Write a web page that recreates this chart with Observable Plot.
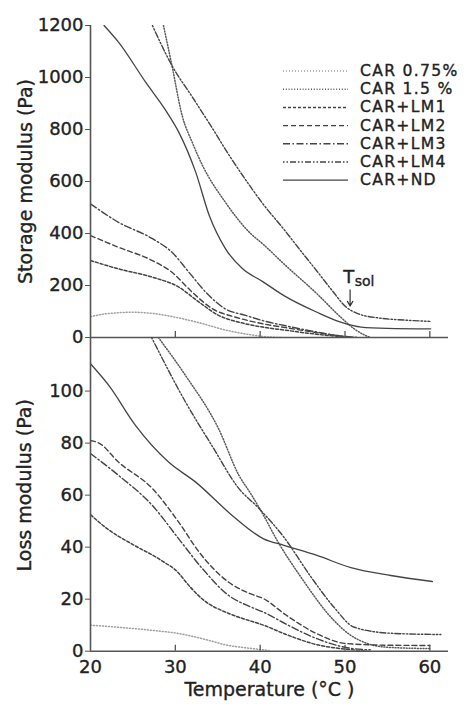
<!DOCTYPE html>
<html>
<head>
<meta charset="utf-8">
<script src="https://cdn.jsdelivr.net/npm/d3@7"></script>
<script src="https://cdn.jsdelivr.net/npm/@observablehq/plot@0.6"></script>
<style>
  body { margin: 0; background: #fff; }
  #root { position: relative; width: 475px; height: 710px; overflow: hidden; }
  #root > * { position: absolute; left: 0; }
  #root text { stroke: #222; stroke-width: 0.35px; }
</style>
</head>
<body>
<div id="root"></div>
<script>
// ---------- data ----------
const seriesNames = ["CAR 0.75%", "CAR 1.5 %", "CAR+LM1", "CAR+LM2", "CAR+LM3", "CAR+LM4", "CAR+ND"];
const xTicks = [20, 30, 40, 50, 60];
const yTicksStorage = [0, 200, 400, 600, 800, 1000, 1200];
const yTicksLoss = [0, 20, 40, 60, 80, 100];

// Storage modulus (Pa) vs temperature (°C): [T, G']
const storageCar075 = [[20,80],[22,92],[25,97],[27.5,92],[30,78],[33,55],[36,28],[39,10],[41,2],[42.5,0]];
const storageCar15  = [[28.6,1200],[29.6,1046],[30.8,854],[32,750],[33.2,662],[35.9,520],[38.9,399],[40.3,360],[42.8,283],[46.7,168],[49.5,78],[51.1,33],[52.4,8],[53,0]];
const storageLM1    = [[20,296],[23.3,264],[27.3,232],[30.4,194],[32.8,136],[35.1,85],[37.5,59],[40.3,40],[43,28],[46,15],[49,5],[51,0]];
const storageLM2    = [[20,392],[23.3,347],[27.3,296],[29.6,251],[32,174],[34.4,110],[37.1,78],[40.3,53],[43,38],[46,22],[49,8],[51,0]];
const storageLM3    = [[20,514],[23.3,443],[27.3,380],[29.6,328],[31.6,251],[33.6,174],[35.9,110],[38.3,85],[40.3,65],[43,45],[46,25],[49,8],[51.5,0]];
const storageLM4    = [[27.3,1200],[29.6,1046],[32,925],[34.4,803],[36.5,693],[38.9,578],[40.3,515],[42.8,416],[44.5,345],[46.7,255],[48.5,180],[50.1,118],[51.5,92],[54,75],[57,67],[60,62]];
const storageND     = [[21.6,1200],[23.3,1136],[26.5,982],[29,867],[30.4,790],[32.4,636],[34,469],[35.9,342],[37.9,265],[40.3,215],[42.8,161],[46.7,97],[49.5,59],[51.9,40],[55,35],[60.1,33]];

// Loss modulus (Pa) vs temperature (°C): [T, G'']
const lossCar075 = [[20,10],[23.3,9.2],[27.3,8],[30.4,6.8],[33.2,4.8],[36.3,2.2],[39.1,1],[41,0.3]];
const lossCar15  = [[28,120.6],[31.2,106],[35.1,85.5],[37.5,67.6],[38.9,60.5],[40.4,52.2],[42,42.6],[44.8,28.5],[48.7,11.8],[50.5,6.5],[52.6,3],[55,1.5],[60,1]];
const lossLM1    = [[20,52.5],[22,47],[25,41],[28.3,35],[30.4,30],[31.4,26],[33.2,20],[36.3,14.5],[38,12.5],[40.4,10],[43,6.5],[46.7,2.5],[50,0.8],[53,0]];
const lossLM2    = [[20,81],[21,80],[23.3,72.7],[27.3,62.5],[30.4,49.6],[32.8,38.1],[36.3,26.5],[38.9,22],[40.4,20.2],[43,14],[46.7,6.7],[50,3],[55,2.3],[60,2.2]];
const lossLM3    = [[20,76],[23.3,67.6],[27.3,56],[30.4,43.2],[33.2,31.7],[36.3,21.4],[38.9,17],[40.4,15],[43,10.5],[46.7,4.8],[50,1.5],[53,0.5]];
const lossLM4    = [[27.2,120.6],[31.2,95.8],[34.3,79.1],[37.5,62.5],[39.7,55.4],[42.8,43.8],[46,28.5],[48.7,16.9],[51.1,9.2],[55.4,6.9],[61.3,6.4]];
const lossND     = [[20,110.5],[22.2,102],[25.3,86.8],[29.2,72.7],[32.4,65],[36.7,52.2],[40.4,43.2],[42.8,40.7],[46.7,36.8],[50.7,32.1],[55.4,29.1],[60.3,26.8]];

// T_sol annotation (storage panel)
const tsolText = [{t: 49.8, g: 232, s: "T"}];
const tsolSub = [{t: 51.15, g: 215, s: "sol"}];
const tsolArrow = [{t: 50.6, g1: 183, g2: 121}];

// ---------- styles ----------
const styles = [
  {stroke: "#a0a0a0", dash: "1,2", width: 1.5},
  {stroke: "#5a5a5a", dash: "1,1.8", width: 1.5},
  {stroke: "#444",    dash: "3,2", width: 1.5},
  {stroke: "#444",    dash: "5,3", width: 1.4},
  {stroke: "#444",    dash: "7,2.5,1.5,2.5", width: 1.4},
  {stroke: "#444",    dash: "1.5,2,1.5,2,6,2", width: 1.4},
  {stroke: "#444",    dash: null, width: 1.3}
];
const storageSeries = [storageCar075, storageCar15, storageLM1, storageLM2, storageLM3, storageLM4, storageND];
const lossSeries = [lossCar075, lossCar15, lossLM1, lossLM2, lossLM3, lossLM4, lossND];

const FONT = "DejaVu Sans";
const W = 475, ML = 90, MR = 27;
const xDomain = [20, 62.2];
const axisColor = "#555";
const fmt = d => String(d);

function lineMarks(series) {
  return series.map((d, i) => Plot.line(d, {
    x: p => p[0], y: p => p[1],
    curve: "monotone-x",
    stroke: styles[i].stroke,
    strokeWidth: styles[i].width,
    strokeDasharray: styles[i].dash ?? undefined,
    clip: true
  }));
}

// ---------- top: storage modulus ----------
const topH = 340, topMT = 25, topMB = 3;
const topPlot = Plot.plot({
  width: W, height: topH,
  marginTop: topMT, marginBottom: topMB, marginLeft: ML, marginRight: MR,
  style: {background: "transparent", fontFamily: FONT, fontSize: "18px", color: "#222", overflow: "visible"},
  x: {domain: xDomain, axis: null},
  y: {domain: [0, 1200]},
  marks: [
    Plot.axisY(yTicksStorage, {tickSize: 5, tickPadding: 2, label: null, stroke: axisColor, tickFormat: fmt}),
    ...lineMarks(storageSeries),
    Plot.ruleX([20], {stroke: axisColor, strokeWidth: 1.6}),
    Plot.ruleY([0], {stroke: axisColor, strokeWidth: 1.6}),
    Plot.tickX(xTicks.slice(1), {stroke: axisColor, strokeWidth: 1.3, insetTop: topH - topMT - topMB - 6}),
    Plot.text(["Storage modulus (Pa)"], {frameAnchor: "left", textAnchor: "middle", rotate: -90, dx: -65, fontSize: 19, fill: "#222", letterSpacing: 1}),
    Plot.text(tsolText, {x: "t", y: "g", text: "s", textAnchor: "start", fontSize: 18, fill: "#222"}),
    Plot.text(tsolSub, {x: "t", y: "g", text: "s", textAnchor: "start", fontSize: 14, fill: "#222"}),
    Plot.arrow(tsolArrow, {x1: "t", y1: "g1", x2: "t", y2: "g2", stroke: "#333", strokeWidth: 1.2, headLength: 7})
  ]
});
topPlot.style.top = "0px";

// ---------- bottom: loss modulus ----------
const botTop = 330, botH = 380, botMT = 7, botMB = 59.3;
const botPlot = Plot.plot({
  width: W, height: botH,
  marginTop: botMT, marginBottom: botMB, marginLeft: ML, marginRight: MR,
  style: {background: "transparent", fontFamily: FONT, fontSize: "18px", color: "#222", overflow: "visible"},
  x: {domain: xDomain},
  y: {domain: [0, 120.6]},
  marks: [
    Plot.axisY(yTicksLoss, {tickSize: 5, tickPadding: 2, label: null, stroke: axisColor, tickFormat: fmt}),
    Plot.axisX(xTicks, {tickSize: 0, tickPadding: 9, label: null, tickFormat: fmt}),
    ...lineMarks(lossSeries),
    Plot.ruleX([20], {stroke: axisColor, strokeWidth: 1.6}),
    Plot.ruleY([0], {stroke: axisColor, strokeWidth: 1.6}),
    Plot.tickX(xTicks.slice(1), {stroke: axisColor, strokeWidth: 1.3, insetTop: botH - botMT - botMB - 6}),
    Plot.text(["Loss modulus (Pa)"], {frameAnchor: "left", textAnchor: "middle", rotate: -90, dx: -66, dy: -9, fontSize: 19, fill: "#222", letterSpacing: 0.8}),
    Plot.text(["Temperature (°C )"], {frameAnchor: "bottom", dy: 45, fontSize: 19, fill: "#222", letterSpacing: 0.2})
  ]
});
botPlot.style.top = botTop + "px";

const root = document.getElementById("root");
root.appendChild(topPlot);
root.appendChild(botPlot);

// ---------- legend ----------
const legend = d3.create("svg")
  .attr("width", W).attr("height", 200)
  .style("top", "0px")
  .style("font-family", FONT);
const rowY0 = 71, rowStep = 18.2;
seriesNames.forEach((name, i) => {
  const y = rowY0 + i * rowStep;
  legend.append("line")
    .attr("x1", 283).attr("x2", 348).attr("y1", y).attr("y2", y)
    .attr("stroke", styles[i].stroke)
    .attr("stroke-width", styles[i].width)
    .attr("stroke-dasharray", styles[i].dash);
  legend.append("text")
    .attr("x", 360).attr("y", y)
    .attr("dominant-baseline", "central")
    .attr("font-size", 15.6)
    .attr("letter-spacing", 1.3)
    .attr("fill", "#222")
    .text(name);
});
root.appendChild(legend.node());
</script>
</body>
</html>
